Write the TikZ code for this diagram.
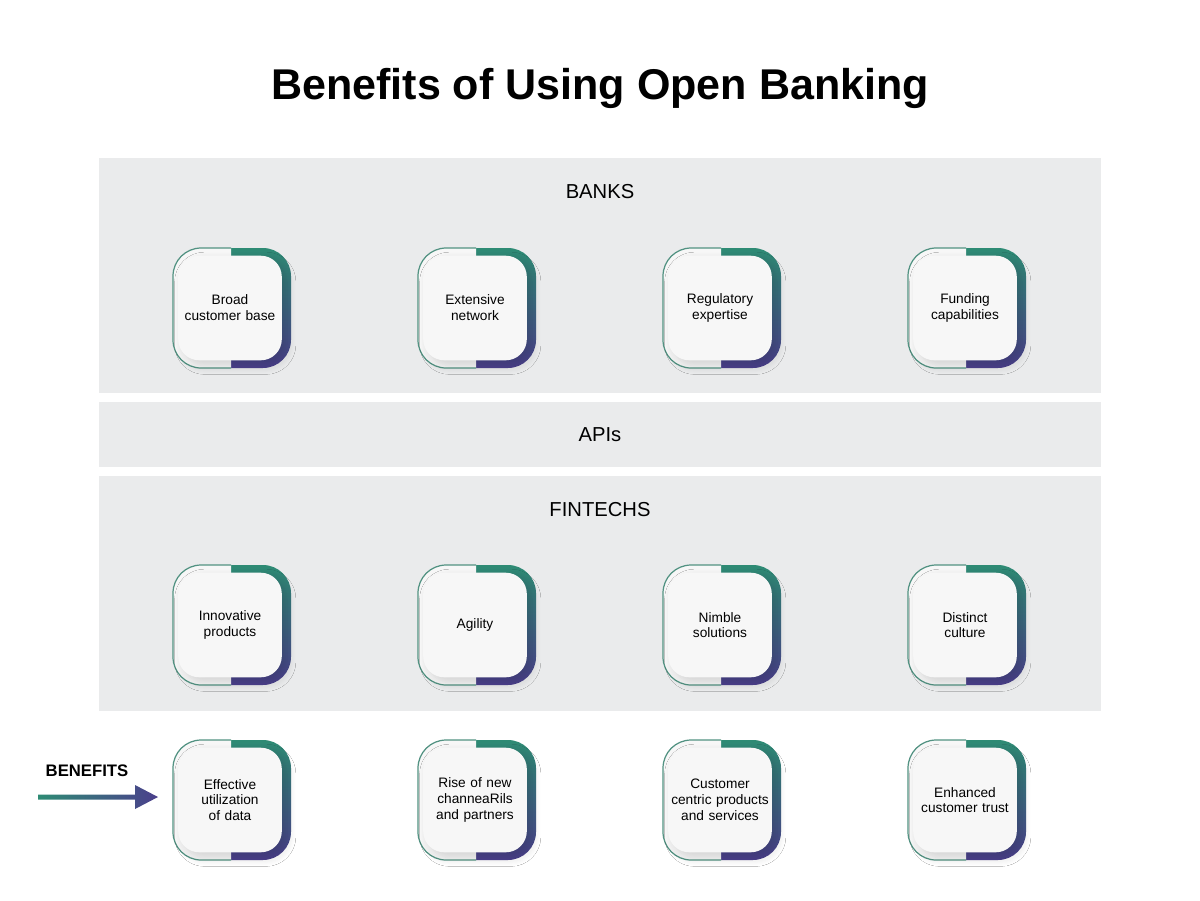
\documentclass[tikz,border=0pt]{standalone}
\usepackage{fontspec}
\setmainfont{Liberation Sans}
\usetikzlibrary{shadows.blur}
\definecolor{panel}{HTML}{EAEBEC}
\definecolor{tl}{HTML}{2E8B74}
\definecolor{pu}{HTML}{4B3F8C}
\definecolor{cardw}{HTML}{F7F7F7}
\tikzset{
  panelbox/.style={fill=panel,draw=none},
  plabel/.style={font=\fontsize{11.5}{13}\selectfont},
  ctext/.style={font=\fontsize{7.8}{9}\selectfont,align=center,text width=2.02cm,inner sep=0pt},
}
\newcommand{\mycard}[4]{%
  \begin{scope}
    \clip (#2,#3-70) rectangle (#2+70,#3+70);
    \shade[top color=tl,bottom color=pu,rounded corners=16] (#2-58,#3-60) rectangle (#2+60,#3+60);
  \end{scope}
  \begin{scope}
    \clip (#2-70,#3-70) rectangle (#2,#3+70);
    \draw[tl!85!black!80,line width=0.7pt,fill=cardw,rounded corners=16] (#2-58,#3-60) rectangle (#2+60,#3+60);
  \end{scope}
  \node[fill=cardw,rounded corners=12,minimum width=104*0.567pt,minimum height=105*0.567pt,
        blur shadow={shadow xshift=3pt,shadow yshift=-3pt,shadow blur steps=10,shadow blur radius=5pt,shadow opacity=15},ctext] (#1) at (#2-1,#3) {#4};
}
\begin{document}
\begin{tikzpicture}[x=0.02cm,y=-0.02cm]
\useasboundingbox[fill=white] (0,0) rectangle (1200,900);
\node[font=\fontsize{24.5}{28}\selectfont\bfseries] (title) at (600,88) {Benefits of Using Open Banking};
\fill[panelbox] (99,158) rectangle (1101,393);
\fill[panelbox] (99,402) rectangle (1101,467);
\fill[panelbox] (99,476) rectangle (1101,711);
\node[plabel] (banks) at (600,192) {BANKS};
\node[plabel] (apis) at (600,435) {APIs};
\node[plabel] (fin) at (600,510) {FINTECHS};
\mycard{b1}{231}{308}{Broad\\customer base}
\mycard{b2}{476}{308}{Extensive\\network}
\mycard{b3}{721}{308}{Regulatory\\expertise}
\mycard{b4}{966}{308}{Funding\\capabilities}
\mycard{f1}{231}{625}{Innovative\\products}
\mycard{f2}{476}{625}{Agility}
\mycard{f3}{721}{625}{Nimble\\solutions}
\mycard{f4}{966}{625}{Distinct\\culture}
\mycard{e1}{231}{800}{Effective\\utilization\\of data}
\mycard{e2}{476}{800}{Rise of new\\channeaRils\\and partners}
\mycard{e3}{721}{800}{Customer\\centric products\\and services}
\mycard{e4}{966}{800}{Enhanced\\customer trust}
\node[font=\fontsize{9.5}{11}\selectfont\bfseries] (ben) at (87,771) {BENEFITS};
\shade[left color=tl,right color=pu] (38,794.5) -- (135,794.5) -- (135,785) -- (158,797) -- (135,809) -- (135,799.5) -- (38,799.5) -- cycle;
\end{tikzpicture}
\end{document}
